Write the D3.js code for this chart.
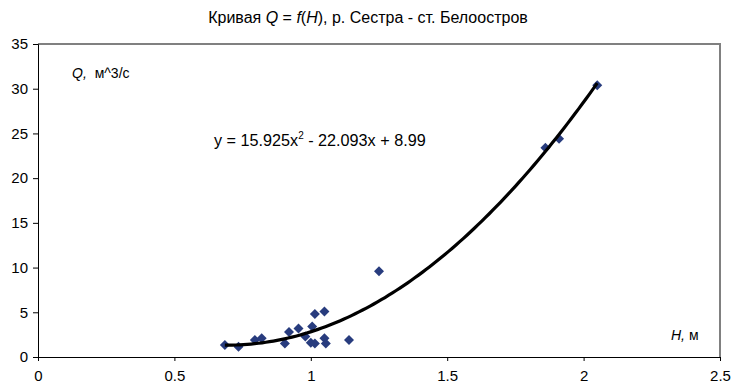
<!DOCTYPE html>
<html><head><meta charset="utf-8">
<script src="https://cdn.jsdelivr.net/npm/d3@7"></script>
<style>body{margin:0;background:#fff}svg{font-family:"Liberation Sans",Arial,sans-serif}</style>
</head><body><svg id="c" width="732" height="388"></svg>
<script>
const H = [0.685,0.735,0.795,0.82,0.905,0.92,0.955,0.98,1.005,1.015,1.05,1.0,1.015,1.05,1.055,1.14,1.25,1.86,1.91,2.05];
const Q = [1.34,1.15,1.9,2.1,1.5,2.8,3.2,2.3,3.4,4.8,5.1,1.6,1.5,2.1,1.5,1.9,9.6,23.4,24.4,30.4];
const coef = [15.925, -22.093, 8.99];
const xTicks = [0,0.5,1,1.5,2,2.5];
const yTicks = [0,5,10,15,20,25,30,35];

const svg = d3.select("#c");
const x = d3.scaleLinear().domain([0,2.5]).range([38,720]);
const y = d3.scaleLinear().domain([0,35]).range([357,44]);

// frame top/right gray
svg.append("path").attr("d",`M${x(0)},${y(35)}H${x(2.5)}V${y(0)}`).attr("fill","none").attr("stroke","#808080").attr("stroke-width",2);

const xa = svg.append("g").attr("transform",`translate(0,${y(0)})`)
  .call(d3.axisBottom(x).tickValues(xTicks).tickFormat(d3.format("")).tickSizeOuter(0).tickSize(4).tickPadding(9));
const ya = svg.append("g").attr("transform",`translate(${x(0)},0)`)
  .call(d3.axisLeft(y).tickValues(yTicks).tickSizeOuter(0).tickSize(5).tickPadding(5));
[xa,ya].forEach(a=>{a.selectAll("text").attr("font-size",15).attr("fill","#000").attr("font-family","Liberation Sans, Arial, sans-serif");
  a.selectAll("path,line").attr("stroke","#000");});

// data points
const data = H.map((h,i)=>({h,q:Q[i]}));
svg.append("g").selectAll("path").data(data).join("path")
  .attr("d","M0,-5L5,0L0,5L-5,0Z")
  .attr("transform",d=>`translate(${x(d.h)},${y(d.q)})`)
  .attr("fill","#283c7e");

// trend line
const f = h => coef[0]*h*h + coef[1]*h + coef[2];
const h0 = d3.min(H), h1 = d3.max(H);
const pts = d3.range(0,101).map(i=>{const h=h0+(h1-h0)*i/100;return [h,f(h)];});
svg.append("path").datum(pts).attr("fill","none").attr("stroke","#000").attr("stroke-width",3.2)
  .attr("d",d3.line().x(d=>x(d[0])).y(d=>y(d[1])));

// title
const t = svg.append("text").attr("x",368).attr("y",23).attr("text-anchor","middle").attr("font-size",16);
t.append("tspan").text("Кривая ");
t.append("tspan").attr("font-style","italic").text("Q");
t.append("tspan").text(" = ");
t.append("tspan").attr("font-style","italic").text("f");
t.append("tspan").text("(");
t.append("tspan").attr("font-style","italic").text("H");
t.append("tspan").text("), р. Сестра - ст. Белоостров");

// y label
const yl = svg.append("text").attr("x",72).attr("y",78).attr("font-size",14);
yl.append("tspan").attr("font-style","italic").text("Q,");
yl.append("tspan").attr("dx",4).text(" м^3/с");

// x label
const xl = svg.append("text").attr("x",671).attr("y",340).attr("font-size",14);
xl.append("tspan").attr("font-style","italic").text("H,");
xl.append("tspan").text(" м");

// equation
const eq = svg.append("text").attr("x",214).attr("y",146).attr("font-size",16.2);
eq.append("tspan").text("y = 15.925x");
eq.append("tspan").attr("font-size",10).attr("dy",-7).text("2");
eq.append("tspan").attr("dy",7).text(" - 22.093x + 8.99");
</script></body></html>
